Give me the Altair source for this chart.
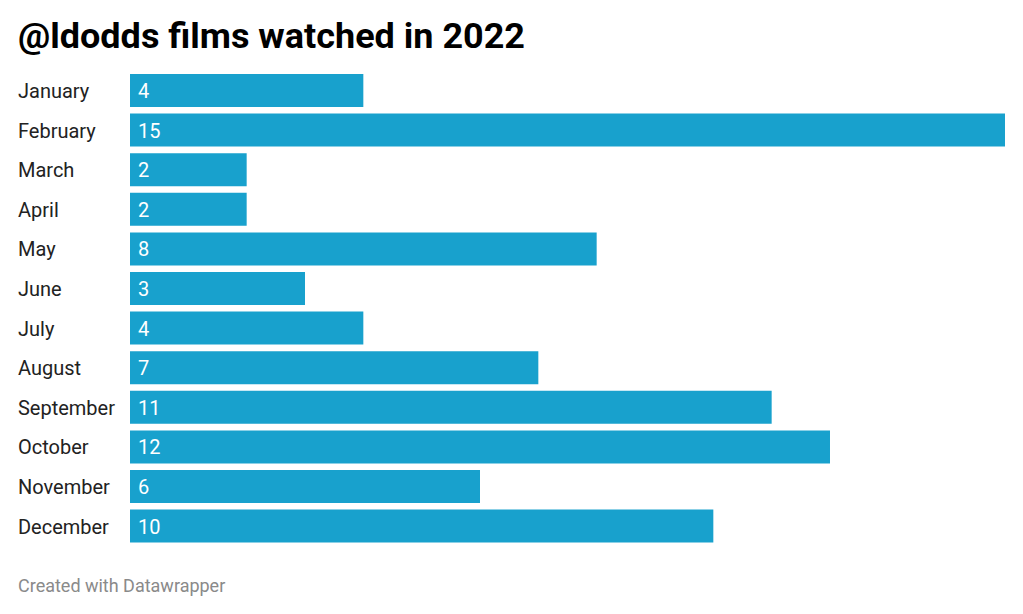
import altair as alt
import pandas as pd

months = ["January", "February", "March", "April", "May", "June", "July",
          "August", "September", "October", "November", "December"]
films = [4, 15, 2, 2, 8, 3, 4, 7, 11, 12, 6, 10]
title_text = "@ldodds films watched in 2022"
footer_text = "Created with Datawrapper"

df = pd.DataFrame({"month": months, "films": films})

FONT = "Roboto"
yscale = alt.Scale(domain=months, paddingInner=0.1667, paddingOuter=0.0833)
ybase = alt.Y("month:N", sort=months, scale=yscale, axis=None)

base = alt.Chart(df)

bars = base.mark_bar(color="#18a1cd").encode(
    x=alt.X("films:Q", scale=alt.Scale(domain=[0, 15], nice=False), axis=None),
    y=ybase,
)

values = base.mark_text(align="left", baseline="middle", color="white",
                        font=FONT, fontSize=20, dy=1.5).encode(
    x=alt.value(8),
    y=ybase,
    text="films:Q",
)

labels = base.mark_text(align="left", baseline="middle", color="#222222",
                        font=FONT, fontSize=20, dy=1.5).encode(
    x=alt.value(-112),
    y=ybase,
    text="month:N",
)

title = alt.Chart(pd.DataFrame({"t": [title_text]})).mark_text(
    align="left", baseline="alphabetic", color="#000000", font=FONT,
    fontSize=36, fontWeight="bold").encode(
    x=alt.value(-112), y=alt.value(-23), text="t:N")

footer = alt.Chart(pd.DataFrame({"t": [footer_text]})).mark_text(
    align="left", baseline="alphabetic", color="#8a8a8a", font=FONT,
    fontSize=18).encode(
    x=alt.value(-112), y=alt.value(521), text="t:N")

chart = alt.layer(bars, values, labels, title, footer).properties(
    width=875, height=475.2,
    padding={"left": 122, "top": 62.7, "right": 10, "bottom": 60},
    autosize=alt.AutoSizeParams(type="none"),
    background="white",
).configure_view(strokeWidth=0, stroke=None)

chart.save("out.html", embed_options={"renderer": "svg", "actions": False})
